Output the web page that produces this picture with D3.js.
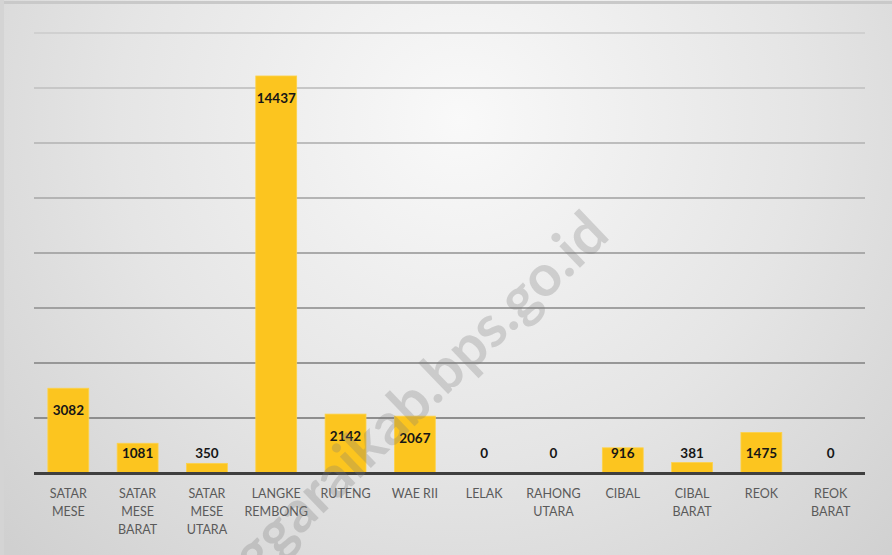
<!DOCTYPE html>
<html>
<head>
<meta charset="utf-8">
<script src="https://cdn.jsdelivr.net/npm/d3@7"></script>
<style>
  html, body { margin: 0; padding: 0; background: #fff; }
  svg { display: block; }
</style>
</head>
<body>
<svg id="canvas" width="892" height="555"></svg>
<script>
// data
const categories = ["SATAR\nMESE", "SATAR\nMESE\nBARAT", "SATAR\nMESE\nUTARA", "LANGKE\nREMBONG", "RUTENG", "WAE RII",
    "LELAK", "RAHONG\nUTARA", "CIBAL", "CIBAL\nBARAT", "REOK", "REOK\nBARAT"];
const values = [3082, 1081, 350, 14437, 2142, 2067, 0, 0, 916, 381, 1475, 0];
const gridTicks = [2000, 4000, 6000, 8000, 10000, 12000, 14000, 16000];

const W = 892, H = 555;
const svg = d3.select("#canvas");

// background gradient
const defs = svg.append("defs");
const bg = defs.append("radialGradient")
    .attr("id", "bg")
    .attr("gradientUnits", "userSpaceOnUse")
    .attr("cx", 460).attr("cy", 120).attr("r", 620);
bg.append("stop").attr("offset", 0).attr("stop-color", "#f9f9f9");
bg.append("stop").attr("offset", 0.55).attr("stop-color", "#e5e5e5");
bg.append("stop").attr("offset", 1).attr("stop-color", "#d0d0d0");

svg.append("rect").attr("width", W).attr("height", H).attr("fill", "url(#bg)");
// frame edges
svg.append("rect").attr("x", 0).attr("y", 1).attr("width", W).attr("height", 3).attr("fill", "#c9c9c9");
svg.append("rect").attr("x", 0).attr("y", 0).attr("width", 4).attr("height", H).attr("fill", "#d4d4d4");

const x = d3.scaleBand()
    .domain(categories)
    .range([34, 865])
    .paddingInner(0.41)
    .paddingOuter(0.2);

const y = d3.scaleLinear()
    .domain([0, 16000])
    .range([473, 33]);

const gridColor = d3.scaleLinear()
    .domain([16000, 2000])
    .range(["#d0d0d0", "#8e8e8e"]);

// gridlines
svg.append("g")
    .selectAll("line")
    .data(gridTicks)
    .enter()
    .append("line")
    .attr("x1", 34)
    .attr("x2", 865)
    .attr("y1", d => y(d))
    .attr("y2", d => y(d))
    .attr("stroke", d => gridColor(d))
    .attr("stroke-width", 2);

// bars
svg.append("g")
    .selectAll("rect")
    .data(values)
    .enter()
    .append("rect")
    .attr("x", (d, i) => x(categories[i]))
    .attr("y", d => y(d))
    .attr("width", x.bandwidth())
    .attr("height", d => y(0) - y(d))
    .attr("fill", "#fcc51f")
    .attr("stroke", "#fdd24a")
    .attr("stroke-width", 0.8);

// baseline
svg.append("line")
    .attr("x1", 34).attr("x2", 865)
    .attr("y1", y(0) + 0.5).attr("y2", y(0) + 0.5)
    .attr("stroke", "#3f3f3f")
    .attr("stroke-width", 3);

// value labels
svg.append("g")
    .selectAll("text")
    .data(values)
    .enter()
    .append("text")
    .attr("x", (d, i) => x(categories[i]) + x.bandwidth() / 2)
    .attr("y", d => Math.min(y(d) + 22, 453) + 5)
    .attr("text-anchor", "middle")
    .attr("font-family", "Lato, sans-serif")
    .attr("font-weight", "bold")
    .attr("font-size", 13.5)
    .attr("fill", "#161616")
    .text(d => d);

// category labels
const cat = svg.append("g")
    .selectAll("text")
    .data(categories)
    .enter()
    .append("text")
    .attr("x", d => x(d) + x.bandwidth() / 2)
    .attr("y", 498)
    .attr("text-anchor", "middle")
    .attr("font-family", "Lato, sans-serif")
    .attr("font-size", 12.5)
    .attr("fill", "#5a5a5a");

cat.selectAll("tspan")
    .data(d => d.split("\n"))
    .enter()
    .append("tspan")
    .attr("x", function () { return d3.select(this.parentNode).attr("x"); })
    .attr("dy", (d, i) => i === 0 ? 0 : 18)
    .text(d => d);

// watermark
svg.append("text")
    .attr("transform", "translate(596,221) rotate(-43.8)")
    .attr("text-anchor", "end")
    .attr("dominant-baseline", "central")
    .attr("font-family", "Lato, sans-serif")
    .attr("font-weight", "bold")
    .attr("font-size", 58)
    .attr("fill", "#7a7a7a")
    .attr("fill-opacity", 0.28)
    .text("manggaraikab.bps.go.id");
</script>
</body>
</html>
